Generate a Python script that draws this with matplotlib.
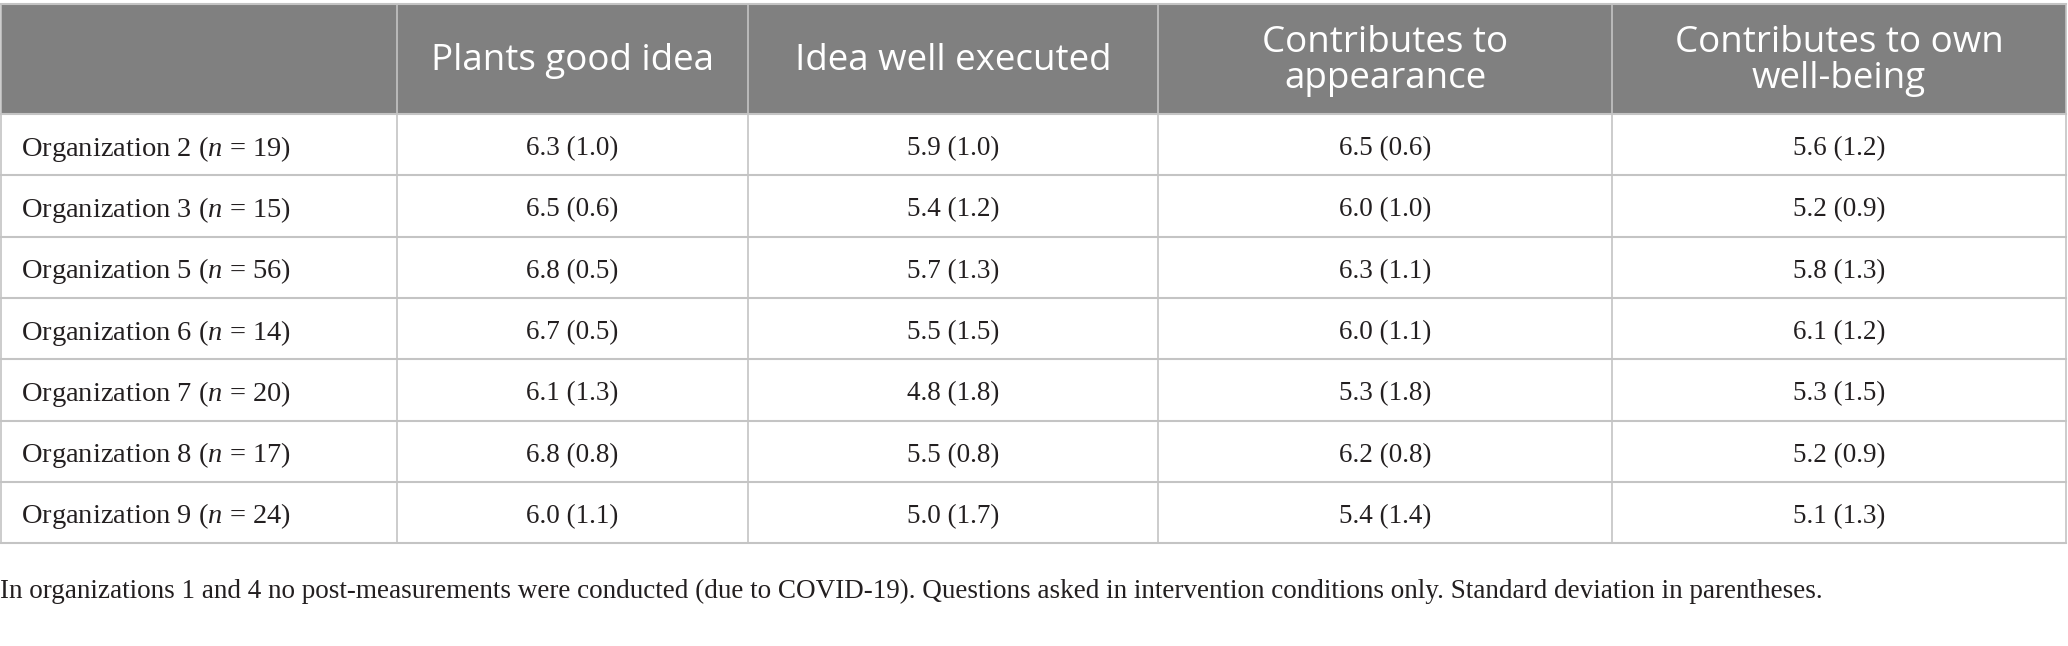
import matplotlib
matplotlib.use("Agg")
import matplotlib.pyplot as plt
from matplotlib.patches import Rectangle

plt.rcParams['mathtext.fontset'] = 'custom'
plt.rcParams['mathtext.rm'] = 'Liberation Serif'
plt.rcParams['mathtext.it'] = 'Liberation Serif:italic'

# table content
headers = ["", "Plants good idea", "Idea well executed",
           "Contributes to\nappearance", "Contributes to own\nwell-being"]
orgs = [2, 3, 5, 6, 7, 8, 9]
sizes = [19, 15, 56, 14, 20, 17, 24]
good_idea = ["6.3 (1.0)", "6.5 (0.6)", "6.8 (0.5)", "6.7 (0.5)", "6.1 (1.3)", "6.8 (0.8)", "6.0 (1.1)"]
executed = ["5.9 (1.0)", "5.4 (1.2)", "5.7 (1.3)", "5.5 (1.5)", "4.8 (1.8)", "5.5 (0.8)", "5.0 (1.7)"]
appearance = ["6.5 (0.6)", "6.0 (1.0)", "6.3 (1.1)", "6.0 (1.1)", "5.3 (1.8)", "6.2 (0.8)", "5.4 (1.4)"]
wellbeing = ["5.6 (1.2)", "5.2 (0.9)", "5.8 (1.3)", "6.1 (1.2)", "5.3 (1.5)", "5.2 (0.9)", "5.1 (1.3)"]
footnote = ("In organizations 1 and 4 no post-measurements were conducted (due to COVID-19). "
            "Questions asked in intervention conditions only. Standard deviation in parentheses.")

W, H = 2068, 646
fig = plt.figure(figsize=(W / 100, H / 100), dpi=100)
ax = fig.add_axes([0, 0, 1, 1])
ax.set_xlim(0, W)
ax.set_ylim(H, 0)
ax.axis('off')

col_x = [1, 397, 748, 1158, 1612, 2066]
top, head_bot = 4, 114
row_h = 61.3
line_c = '#c4c4c4'
head_c = '#808080'
txt_c = '#231f20'

ax.add_patch(Rectangle((col_x[0], top), col_x[-1] - col_x[0], head_bot - top,
                       facecolor=head_c, edgecolor='none'))

for j, h in enumerate(headers):
    cx = (col_x[j] + col_x[j + 1]) / 2
    ax.text(cx, (top + head_bot) / 2 + 2, h, ha='center', va='center', color='white',
            fontsize=26.5, family='Open Sans', linespacing=0.98)

rows = list(zip(orgs, sizes, good_idea, executed, appearance, wellbeing))
for i, (org, n, a, b, c, d) in enumerate(rows):
    yc = head_bot + row_h * (i + 0.5) + 4
    ax.text(col_x[0] + 20, yc, "Organization %d ($n$ = %d)" % (org, n), ha='left', va='center',
            color=txt_c, fontsize=20.5, family='Liberation Serif')
    for j, v in enumerate([a, b, c, d], start=1):
        cx = (col_x[j] + col_x[j + 1]) / 2
        ax.text(cx, yc, v, ha='center', va='center', color=txt_c,
                fontsize=19.5, family='Liberation Serif')

bottom = head_bot + row_h * len(rows)
# horizontal lines
for i in range(len(rows) + 1):
    y = head_bot + row_h * i
    ax.plot([col_x[0], col_x[-1]], [y, y], color=line_c, lw=1.5)
ax.plot([col_x[0], col_x[-1]], [top, top], color=line_c, lw=1.5)
# vertical lines
for x in col_x:
    ax.plot([x, x], [top, bottom], color=line_c, lw=1.2)

ax.text(0, 591, footnote, ha='left', va='center', color=txt_c,
        fontsize=19.5, family='Liberation Serif')

fig.savefig("out.png", dpi=100)
